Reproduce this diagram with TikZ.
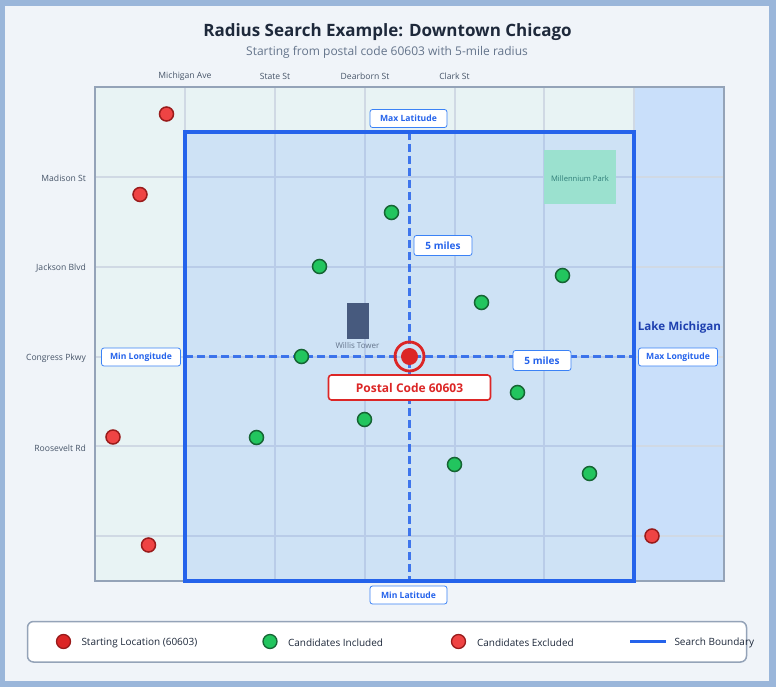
\documentclass[tikz,border=0pt]{standalone}
\usepackage{fontspec}
\setmainfont{Open Sans}
\usepackage{xcolor}
\definecolor{pageblue}{HTML}{9AB6DA}
\definecolor{panelbg}{HTML}{F0F4F9}
\definecolor{landbg}{HTML}{E8F3F4}
\definecolor{lakebg}{HTML}{C9DFFA}
\definecolor{mapline}{HTML}{94A3B8}
\definecolor{roadline}{HTML}{D0D9E4}
\definecolor{searchblue}{HTML}{2563EB}
\definecolor{searchfill}{HTML}{3A85FF}
\definecolor{labelblue}{HTML}{3B82F6}
\definecolor{lakeblue}{HTML}{1E40AF}
\definecolor{darkink}{HTML}{1E293B}
\definecolor{greyink}{HTML}{64748B}
\definecolor{roadink}{HTML}{475569}
\definecolor{parkgreen}{HTML}{9BE1CF}
\definecolor{parkink}{HTML}{2F7D78}
\definecolor{towerblue}{HTML}{475A7E}
\definecolor{startred}{HTML}{DC2626}
\definecolor{inred}{HTML}{EF4444}
\definecolor{ingreen}{HTML}{22C55E}
\definecolor{edgegreen}{HTML}{166534}
\definecolor{edgered}{HTML}{991B1B}
\usetikzlibrary{positioning}

\begin{document}
\begin{tikzpicture}[x=1pt, y=-1pt,
    % Text and pin styles
    every node/.style={inner sep=0pt, outer sep=0pt},
    road label/.style={font=\fontsize{8.6}{10}\selectfont, text=roadink},
    limit label/.style={draw=labelblue, fill=white, rounded corners=2.5pt, line width=0.8pt,
      minimum height=18pt, text=searchblue, font=\fontsize{8.6}{10}\selectfont\bfseries},
    miles label/.style={limit label, minimum width=58pt, minimum height=20pt, font=\fontsize{10}{12}\selectfont\bfseries},
    legend label/.style={anchor=west, text=darkink, font=\fontsize{10}{12}\selectfont},
    included/.style={circle, draw=edgegreen, fill=ingreen, line width=1.5pt, minimum size=14pt},
    excluded/.style={circle, draw=edgered, fill=inred, line width=1.5pt, minimum size=14pt},
    road/.style={color=roadline, line width=2pt},
    radius line/.style={color=searchblue, opacity=0.85, line width=2.2pt, dash pattern=on 8pt off 4pt}
  ]
  % --- Map dimensions ---
  \def\Xleft{95}
  \def\Xright{724}
  \def\Xshore{634}
  \def\Xsearch{185}
  \def\Ytop{87}
  \def\Ybottom{581}
  \def\Ysearch{132}

  % --- Page and panel ---
  \useasboundingbox (0,0) rectangle (776,687);
  \fill[pageblue] (0,0) rectangle (776,687);
  \fill[panelbg] (5,6) rectangle (769,681);

  \node[text=darkink, font=\fontsize{17}{20}\selectfont\bfseries] (title) at (387.5,32.5) {Radius Search Example: Downtown Chicago};
  \node[text=greyink, font=\fontsize{12}{14}\selectfont] (subtitle) at (387,52) {Starting from postal code 60603 with 5-mile radius};

  % --- Land, lake and roads ---
  \fill[landbg] (\Xleft,\Ytop) rectangle (\Xshore,\Ybottom);
  \fill[lakebg] (\Xshore,\Ytop) rectangle (\Xright,\Ybottom);
  \foreach \x in {185,275,365,454.5,544,634} {
    \draw[road] (\x,\Ytop) -- (\x,\Ybottom);
  }
  \foreach \y in {177,267,357,446,536} {
    \draw[road] (\Xleft,\y) -- (\Xright,\y);
  }
  \draw[mapline, line width=1.8pt] (\Xleft,\Ytop) rectangle (\Xright,\Ybottom);

  % Road names
  \foreach \x/\name/\txt in {185/michigan/Michigan Ave,275/state/State St,365/dearborn/Dearborn St,454.5/clark/Clark St} {
    \node[road label] (\name) at (\x,76) {\txt};
  }
  \foreach \y/\name/\txt in {178.5/madison/Madison St,268.5/jackson/Jackson Blvd,358.5/congress/Congress Pkwy,448.5/roosevelt/Roosevelt Rd} {
    \node[road label, anchor=east] (\name) at (86,\y) {\txt};
  }

  % --- Search boundary ---
  \fill[searchfill, fill opacity=0.15] (\Xsearch,\Ysearch) rectangle (\Xshore,\Ybottom);
  \draw[searchblue, line width=3.6pt] (\Xsearch,\Ysearch) rectangle (\Xshore,\Ybottom);

  % --- Landmarks ---
  \fill[parkgreen] (544,150) rectangle (616,204);
  \node[text=parkink, font=\fontsize{7.6}{10}\selectfont] (park) at (580,178.5) {Millennium Park};
  \fill[towerblue] (347,303) rectangle (369,339);
  \node[text=greyink, font=\fontsize{8}{10}\selectfont] (tower) at (357.5,345.5) {Willis Tower};
  \node[text=lakeblue, font=\fontsize{11.6}{14}\selectfont\bfseries] (lake) at (679.5,327) {Lake Michigan};

  % Radius lines
  \coordinate (north) at (409.5,\Ysearch);
  \coordinate (south) at (409.5,\Ybottom);
  \coordinate (west) at (\Xsearch,356.5);
  \coordinate (east) at (\Xshore,356.5);
  \draw[radius line] (north) -- (south);
  \draw[radius line] (west) -- (east);

  % --- Candidates ---
  \foreach \x/\y [count=\i] in {391.5/212.5,319.5/266.5,562.5/275.5,481.5/302.5,301.5/356.5,517.5/392.5,364.5/419.5,256.5/437.5,454.5/464.5,589.5/473.5} {
    \node[included] (in\i) at (\x,\y) {};
  }
  \foreach \x/\y [count=\i] in {166.5/114,140/194.5,113/437,148.5/545,652/536} {
    \node[excluded] (out\i) at (\x,\y) {};
  }

  % --- Starting location ---
  \node[circle, draw=startred, line width=2.8pt, minimum size=29pt] (ring) at (409.5,356.5) {};
  \node[circle, fill=startred, minimum size=17pt] (start) at (409.5,356.5) {};
  \node[draw=startred, fill=white, rounded corners=3pt, line width=1.6pt, minimum width=162pt, minimum height=25pt,
    text=startred, font=\fontsize{12}{14}\selectfont\bfseries] (postal) at (409.5,387.5) {Postal Code 60603};

  % --- Limit labels ---
  \node[limit label, minimum width=77pt] (maxlat) at (408.5,118.5) {Max Latitude};
  \node[limit label, minimum width=77pt] (minlat) at (408.5,595) {Min Latitude};
  \node[limit label, minimum width=79pt] (minlon) at (141,357) {Min Longitude};
  \node[limit label, minimum width=79pt] (maxlon) at (678,357) {Max Longitude};
  \node[miles label] (milesup) at (443,245.5) {5 miles};
  \node[miles label] (milesright) at (542,360.5) {5 miles};

  % --- Legend ---
  \draw[mapline, fill=white, line width=1.5pt, rounded corners=6pt] (27.5,621.5) rectangle (746.5,662);
  \node[circle, draw=edgered, fill=startred, line width=1.3pt, minimum size=14pt] (keystart) at (63.5,641.5) {};
  \node[legend label] (keystarttxt) at (81.5,643) {Starting Location (60603)};
  \node[included, line width=1.3pt] (keyin) at (270,641.5) {};
  \node[legend label] (keyintxt) at (288,643) {Candidates Included};
  \node[excluded, line width=1.3pt] (keyout) at (458.5,641.5) {};
  \node[legend label] (keyouttxt) at (477,643) {Candidates Excluded};
  \coordinate (keya) at (630,641.5);
  \coordinate (keyb) at (666,641.5);
  \draw[searchblue, line width=2.6pt] (keya) -- (keyb);
  \node[legend label] (keyboxtxt) at (674.5,643) {Search Boundary};
\end{tikzpicture}
\end{document}
